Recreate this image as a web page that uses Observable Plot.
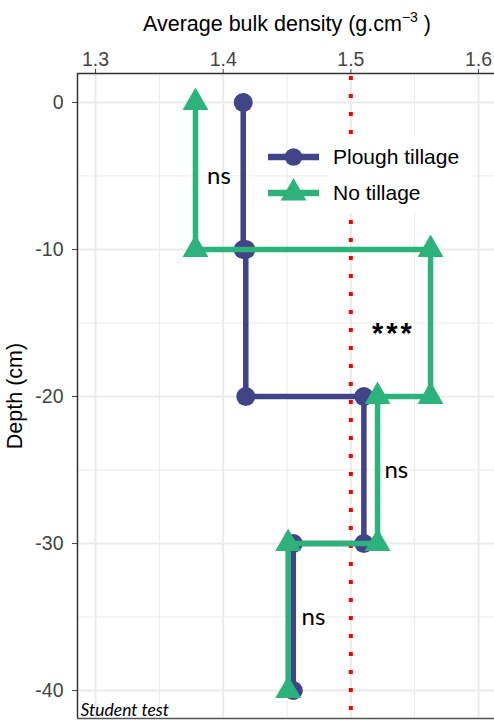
<!DOCTYPE html>
<html>
<head>
<meta charset="utf-8">
<script src="https://cdn.jsdelivr.net/npm/d3@7"></script>
<script src="https://cdn.jsdelivr.net/npm/@observablehq/plot@0.6"></script>
<style>
  body { margin: 0; background: #fff; }
  #wrap { position: relative; width: 494px; height: 720px; overflow: hidden; }
  #legendBox { position: absolute; left: 329px; top: 137px; width: 143px; height: 76px; background: #fff; }
  .legRow { position: absolute; left: 268px; height: 36px; display: flex; align-items: center; }
  .legRow span { font-family: 'Liberation Sans', Arial, sans-serif; font-size: 21px; color: #000; margin-left: 14px; }
</style>
</head>
<body>
<div id="wrap"></div>
<script>
// ---- data ----
const layerTop = [0, -10, -20, -30];
const layerBottom = [-10, -20, -30, -40];
const ploughTillage = [1.4157, 1.4177, 1.5102, 1.4549];
const noTillage = [1.3783, 1.5624, 1.5209, 1.4509];
const seriesNames = ["Plough tillage", "No tillage"];
const seriesColors = ["#414487", "#2db27c"];
const seriesSymbols = ["circle", "triangle"];
const xTicks = [1.3, 1.4, 1.5, 1.6];
const xMinor = [1.35, 1.45, 1.55];
const yTicks = [0, -10, -20, -30, -40];
const yMinor = [-5, -15, -25, -35];
const threshold = 1.5;
const testLabels = ["ns", "***", "ns", "ns"];
const testX = [1.3967, 1.5322, 1.5356, 1.4707];
const testY = [-5, -15, -25, -35];
const xDomain = [1.2859, 1.6125];
const yDomain = [-41.9, 1.97];

function stepRows(values) {
  return values.flatMap((v, i) => [
    {x: v, y: layerTop[i]},
    {x: v, y: layerBottom[i]}
  ]);
}
const ploughRows = stepRows(ploughTillage);
const noRows = stepRows(noTillage);
const annotations = testLabels.map((label, i) => ({label, x: testX[i], y: testY[i]}));

const plot = Plot.plot({
  width: 494,
  height: 720,
  marginLeft: 77,
  marginTop: 73,
  marginRight: 0,
  marginBottom: 2,
  style: {fontFamily: "'Liberation Sans', Arial, sans-serif", fontSize: "19.5px", background: "white", overflow: "visible"},
  x: {domain: xDomain},
  y: {domain: yDomain},
  marks: [
    Plot.gridX(xMinor, {stroke: "#ebebeb", strokeOpacity: 1, strokeWidth: 1}),
    Plot.gridY(yMinor, {stroke: "#ebebeb", strokeOpacity: 1, strokeWidth: 1}),
    Plot.gridX(xTicks, {stroke: "#ebebeb", strokeOpacity: 1, strokeWidth: 2}),
    Plot.gridY(yTicks, {stroke: "#ebebeb", strokeOpacity: 1, strokeWidth: 2}),
    Plot.ruleX([threshold], {stroke: "#ff0000", strokeWidth: 4, strokeDasharray: "4,14", strokeDashoffset: 15}),
    Plot.axisX(xTicks, {anchor: "top", tickFormat: d => d.toFixed(1), tickSize: 5, tickPadding: 3, label: null, color: "#444"}),
    Plot.axisY(yTicks, {anchor: "left", tickFormat: d => String(d), tickSize: 5, tickPadding: 9, label: null, color: "#444"}),
    Plot.ruleX([xDomain[0]], {stroke: "#333", strokeWidth: 1.5}),
    Plot.ruleY([yDomain[1]], {stroke: "#333", strokeWidth: 1.5}),
    Plot.ruleY([yDomain[0]], {stroke: "#555", strokeWidth: 1.5}),
    Plot.line(ploughRows, {x: "x", y: "y", stroke: seriesColors[0], strokeWidth: 5.5}),
    Plot.dot(ploughRows, {x: "x", y: "y", r: 9.5, fill: seriesColors[0], symbol: seriesSymbols[0]}),
    Plot.line(noRows, {x: "x", y: "y", stroke: seriesColors[1], strokeWidth: 5.5}),
    Plot.dot(noRows, {x: "x", y: "y", r: 9.6, fill: seriesColors[1], symbol: seriesSymbols[1]}),
    Plot.text(annotations.filter(d => d.label === "ns"), {x: "x", y: "y", text: "label", fontSize: 24, fontFamily: "Lato, 'Liberation Sans', sans-serif", fill: "#000"}),
    Plot.text(annotations.filter(d => d.label !== "ns"), {x: "x", y: "y", text: "label", fontSize: 29, dx: 1.5, dy: 11, fill: "#000"}),
    Plot.text(["Student test"], {frameAnchor: "bottom-left", text: d => d, textAnchor: "start", lineAnchor: "bottom", dx: 3, dy: -3, fontSize: 17.5, fontStyle: "italic", fontFamily: "Lato, 'Open Sans', sans-serif", fill: "#000"})
  ]
});

document.getElementById("wrap").appendChild(plot);
const svg = d3.select(plot);
svg.selectAll("text").filter(function() { return this.textContent === "***"; })
  .style("letter-spacing", "3px").style("font-weight", "bold");

// axis titles
const xt = svg.append("text")
  .attr("x", 287).attr("y", 30.5)
  .attr("text-anchor", "middle")
  .attr("fill", "#000")
  .style("font-size", "21.5px");
xt.append("tspan").text("Average bulk density (g.cm");
xt.append("tspan").text("\u22123").attr("dy", -9).style("font-size", "14px");
xt.append("tspan").text(" )").attr("dy", 9);

svg.append("text")
  .attr("transform", "translate(22,396) rotate(-90)")
  .attr("text-anchor", "middle")
  .attr("fill", "#000")
  .style("font-size", "21.5px")
  .text("Depth (cm)");

// legend
const wrap = d3.select("#wrap");
wrap.append("div").attr("id", "legendBox");
const rowTops = [139, 175];
seriesNames.forEach((name, i) => {
  const row = wrap.append("div").attr("class", "legRow").style("top", rowTops[i] + "px");
  const s = row.append("svg").attr("width", 51).attr("height", 36);
  s.append("line").attr("x1", 0).attr("x2", 51).attr("y1", 18).attr("y2", 18)
    .attr("stroke", seriesColors[i]).attr("stroke-width", 6.5);
  const sym = i === 0 ? d3.symbolCircle : d3.symbolTriangle;
  const size = i === 0 ? Math.PI * 8.8 * 8.8 : Math.PI * 9.6 * 9.6;
  s.append("path").attr("d", d3.symbol(sym, size)()).attr("transform", "translate(25.5,18)")
    .attr("fill", seriesColors[i]);
  row.append("span").text(name);
});
</script>
</body>
</html>
